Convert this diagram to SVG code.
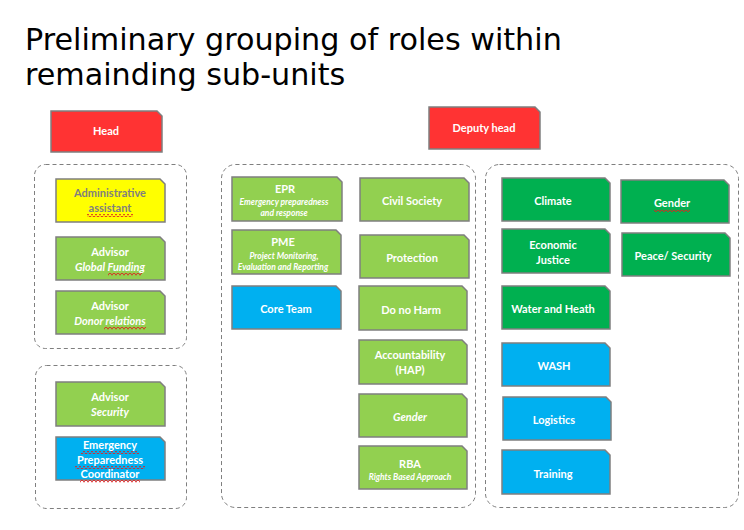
<svg xmlns="http://www.w3.org/2000/svg" width="744" height="530" viewBox="0 0 744 530">
<defs>
<style>
.title{font-family:"DejaVu Sans",Verdana,sans-serif;font-size:30.2px;fill:#000}
.box{stroke:#7f7f7f;stroke-width:1.5}
.red{fill:#FF3333}.yel{fill:#FFFF00}.lg{fill:#92D050}.dg{fill:#00B050}.bl{fill:#00B0F0}
.grp{fill:none;stroke:#7f7f7f;stroke-width:1;stroke-dasharray:4 3}
.t{font-family:Lato,"Open Sans",sans-serif;font-weight:bold;font-size:11px;fill:#fff;text-anchor:middle}
.gt{fill:#7f7f7f}
.s{font-family:Lato,"Open Sans",sans-serif;font-weight:bold;font-style:italic;font-size:8.5px;fill:#fff;text-anchor:middle}
.i{font-style:italic}
.sq{fill:url(#squig)}
</style>
<pattern id="squig" width="4" height="3" patternUnits="userSpaceOnUse">
<path d="M0,2.5 L1,0.5 L3,0.5 L4,2.5" fill="none" stroke="#e02020" stroke-width="0.8"/>
</pattern>
</defs>
<rect width="744" height="530" fill="#fff"/>
<text class="title" x="25" y="50">Preliminary grouping of roles within</text>
<text class="title" x="25" y="85">remainding sub-units</text>

<g id="groups">
<rect class="grp" x="34.5" y="164.5" width="152" height="184" rx="11"/>
<rect class="grp" x="35.5" y="365.5" width="151" height="143" rx="11"/>
<rect class="grp" x="221.5" y="164.5" width="254" height="343" rx="14"/>
<rect class="grp" x="485.5" y="164.5" width="253" height="343" rx="14"/>
</g>

<g id="head"><path class="box red" d="M51,111 H157 L162,116 V152 H51 Z"/><text class="t" x="106" y="135">Head</text></g>
<g id="deputy-head"><path class="box red" d="M429,107 H535 L540,112 V149 H429 Z"/><text class="t" x="484" y="132">Deputy head</text></g>

<g id="admin"><path class="box yel" d="M56,179 H160 L165,184 V222 H56 Z"/><text class="t gt" x="110" y="197">Administrative</text><text class="t gt" x="110" y="212">assistant</text><rect class="sq" x="87" y="214" width="46" height="3"/></g>
<g id="advisor-funding"><path class="box lg" d="M56,237 H160 L165,242 V280 H56 Z"/><text class="t" x="110" y="256">Advisor</text><text class="t i" x="110" y="271">Global Funding</text><rect class="sq" x="108" y="273" width="34" height="3"/></g>
<g id="advisor-donor"><path class="box lg" d="M56,291 H160 L165,296 V334 H56 Z"/><text class="t" x="110" y="310">Advisor</text><text class="t i" x="110" y="325">Donor relations</text><rect class="sq" x="104" y="327" width="42" height="3"/></g>

<g id="advisor-security"><path class="box lg" d="M56,382 H160 L165,387 V426 H56 Z"/><text class="t" x="110" y="401">Advisor</text><text class="t i" x="110" y="416">Security</text></g>
<g id="epc"><path class="box bl" d="M56,437 H160 L165,442 V480 H56 Z"/><text class="t" x="110" y="449">Emergency</text><text class="t" x="110" y="464">Preparedness</text><text class="t" x="110" y="478">Coordinator</text><rect class="sq" x="81" y="451" width="58" height="3"/><rect class="sq" x="75" y="466" width="70" height="3"/><rect class="sq" x="80" y="480" width="60" height="3"/></g>

<g id="epr"><path class="box lg" d="M232,177 H337 L342,182 V221 H232 Z"/><text class="t" x="285" y="193">EPR</text><text class="s" x="284" y="205">Emergency preparedness</text><text class="s" x="284" y="216">and response</text></g>
<g id="pme"><path class="box lg" d="M232,230 H336 L341,235 V274 H232 Z"/><text class="t" x="283" y="246">PME</text><text class="s" x="284" y="259">Project Monitoring,</text><text class="s" x="283" y="270">Evaluation and Reporting</text></g>
<g id="core-team"><path class="box bl" d="M232,286 H336 L341,291 V329 H232 Z"/><text class="t" x="286" y="313">Core Team</text></g>
<g id="civil-society"><path class="box lg" d="M360,178 H464 L469,183 V221 H360 Z"/><text class="t" x="412" y="205">Civil Society</text></g>
<g id="protection"><path class="box lg" d="M360,235 H464 L469,240 V278 H360 Z"/><text class="t" x="412" y="262">Protection</text></g>
<g id="do-no-harm"><path class="box lg" d="M359,286 H462 L467,291 V330 H359 Z"/><text class="t" x="411" y="314">Do no Harm</text></g>
<g id="accountability"><path class="box lg" d="M359,340 H462 L467,345 V384 H359 Z"/><text class="t" x="410" y="359">Accountability</text><text class="t" x="410" y="374">(HAP)</text></g>
<g id="gender-mid"><path class="box lg" d="M359,394 H462 L467,399 V437 H359 Z"/><text class="t i" x="410" y="421">Gender</text></g>
<g id="rba"><path class="box lg" d="M359,446 H462 L467,451 V489 H359 Z"/><text class="t" x="410" y="468">RBA</text><text class="s" x="410" y="480">Rights Based Approach</text></g>

<g id="climate"><path class="box dg" d="M502,178 H605 L610,183 V221 H502 Z"/><text class="t" x="553" y="205">Climate</text></g>
<g id="economic-justice"><path class="box dg" d="M502,229 H605 L610,234 V273 H502 Z"/><text class="t" x="553" y="249">Economic</text><text class="t" x="553" y="264">Justice</text></g>
<g id="water-heath"><path class="box dg" d="M502,286 H605 L610,291 V329 H502 Z"/><text class="t" x="553" y="313">Water and Heath</text></g>
<g id="gender-right"><path class="box dg" d="M621,180 H724 L729,185 V223 H621 Z"/><text class="t" x="672" y="207">Gender</text><rect class="sq" x="654" y="209" width="36" height="3"/></g>
<g id="peace-security"><path class="box dg" d="M622,233 H725 L730,238 V276 H622 Z"/><text class="t" x="673" y="260">Peace/ Security</text></g>
<g id="wash"><path class="box bl" d="M502,343 H605 L610,348 V386 H502 Z"/><text class="t" x="554" y="370">WASH</text></g>
<g id="logistics"><path class="box bl" d="M503,397 H606 L611,402 V440 H503 Z"/><text class="t" x="554" y="424">Logistics</text></g>
<g id="training"><path class="box bl" d="M502,450 H605 L610,455 V494 H502 Z"/><text class="t" x="553" y="478">Training</text></g>

<g id="connectors"></g>
</svg>
